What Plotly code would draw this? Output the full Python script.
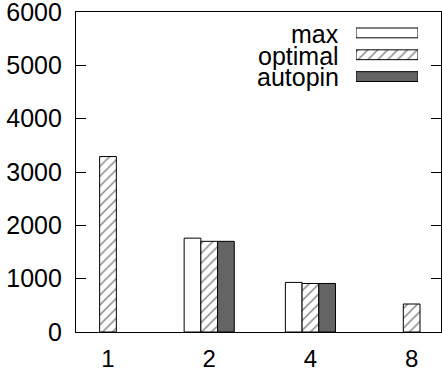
import plotly.graph_objects as go

# Thread counts and measured values per configuration
categories = ["1", "2", "4", "8"]
max_vals = [None, 1760, 930, None]
optimal_vals = [3290, 1700, 910, 525]
autopin_vals = [None, 1700, 910, None]

series_names = ["max", "optimal", "autopin"]
y_ticks = [0, 1000, 2000, 3000, 4000, 5000, 6000]

FONT = "Liberation Sans"
FS = 25
GRAY = "#646464"
HATCH = dict(shape="/", fgcolor="#000000", bgcolor="white", size=7, solidity=0.2)

W, H = 442, 370
ML, MR, MT, MB = 76, 1, 12, 38
PW, PH = W - ML - MR, H - MT - MB


def px_x(p):
    return (p - ML) / PW


def px_y(p):
    return (H - MB - p) / PH


styles = {
    "max": dict(marker=dict(color="white", line=dict(color="black", width=1))),
    "optimal": dict(marker=dict(color="white", pattern=HATCH, line=dict(color="black", width=1))),
    "autopin": dict(marker=dict(color=GRAY, line=dict(color="black", width=1))),
}

fig = go.Figure()
for name, vals in zip(series_names, [max_vals, optimal_vals, autopin_vals]):
    fig.add_trace(go.Bar(x=categories, y=vals, name=name, showlegend=False,
                         hoverinfo="skip", **styles[name]))

# Key: small horizontal swatches on their own axes, labels right-aligned on the left
row_y = [33, 55, 76]
for i, name in enumerate(series_names):
    fig.add_trace(go.Bar(x=[1], y=[i], base=0, orientation="h", width=0.45, offset=-0.225,
                         xaxis="x2", yaxis="y2", showlegend=False, hoverinfo="skip",
                         **styles[name]))
    fig.add_annotation(x=px_x(341), y=px_y(row_y[i] + 1), xref="paper", yref="paper",
                       text=name, showarrow=False, xanchor="right", yanchor="middle",
                       font=dict(family=FONT, size=FS, color="black"))

fig.update_layout(
    width=W, height=H,
    margin=dict(l=ML, r=MR, t=MT, b=MB),
    paper_bgcolor="white", plot_bgcolor="white",
    barmode="group", bargap=0.505, bargroupgap=0,
    font=dict(family=FONT, size=FS, color="black"),
    xaxis=dict(type="category", range=[-0.316, 3.29], showline=True, mirror=True,
               linecolor="black", linewidth=1.2, ticks="", showgrid=False,
               tickfont=dict(size=24), ticklabelstandoff=5, automargin=False),
    yaxis=dict(range=[0, 6000.5], tickvals=y_ticks, ticks="inside", ticklen=10,
               tickcolor="black", mirror="allticks", showline=True, linecolor="black",
               linewidth=1.2, showgrid=False, zeroline=False, ticklabelstandoff=8,
               ticklabeloverflow="allow", automargin=False),
    xaxis2=dict(domain=[px_x(356), px_x(418)], range=[0, 1], visible=False,
                anchor="y2", fixedrange=True),
    yaxis2=dict(domain=[px_y(87.5), px_y(22)], range=[2.5, -0.5], visible=False,
                anchor="x2", fixedrange=True),
)

fig.write_html("out.html")
